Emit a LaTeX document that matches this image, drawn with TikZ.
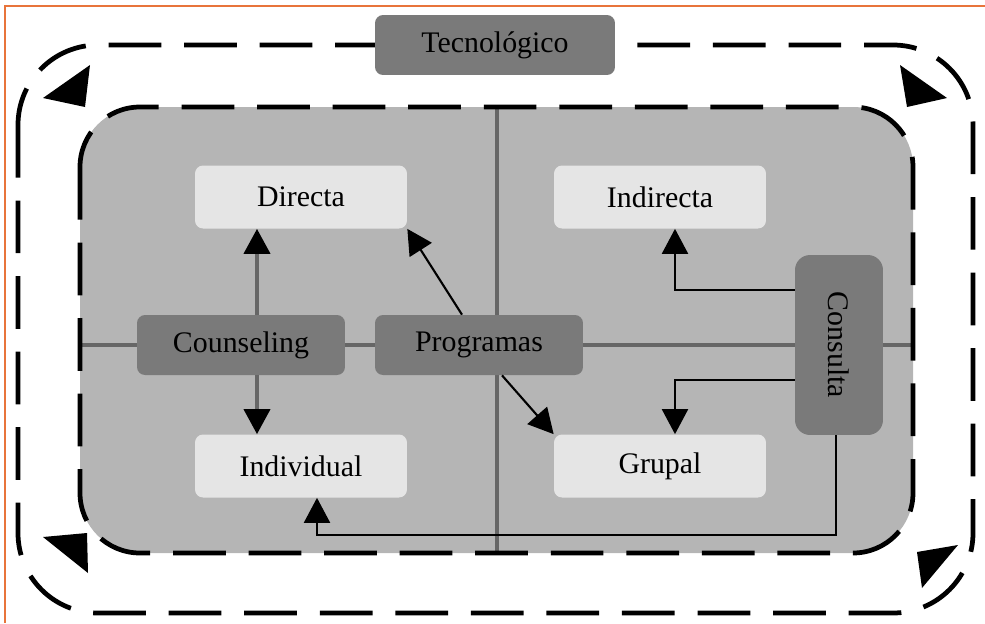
\documentclass[tikz,border=0pt]{standalone}
\usepackage{fontspec}
\setmainfont{Liberation Serif}
\usetikzlibrary{arrows.meta}
\definecolor{panelgray}{gray}{0.71}
\definecolor{boxlight}{gray}{0.90}
\definecolor{boxdark}{gray}{0.48}
\definecolor{divgray}{gray}{0.40}
\definecolor{edgeorange}{RGB}{232,116,59}

\begin{document}
\begin{tikzpicture}[x=0.02cm,y=-0.02cm,font=\fontsize{17}{20}\selectfont,
  light/.style={fill=boxlight,rounded corners=.16cm,minimum width=4.24cm,minimum height=1.26cm},
  dark/.style={fill=boxdark,rounded corners=.16cm,minimum width=4.16cm,minimum height=1.2cm},
  frame/.style={line width=2.7pt,dash pattern=on 30pt off 13pt},
  link/.style={line width=1.2pt,-{Triangle[length=.5cm,width=.52cm,color=black]}}]
\useasboundingbox (0,0) rectangle (985,623);
\draw[edgeorange,line width=.8pt] (5,623)--(5,6)--(985,6);
% panel and its quadrants
\fill[panelgray,rounded corners=1.2cm] (80,107) rectangle (913,553);
\draw[divgray,line width=2.2pt] (497,107)--(497,553);\draw[divgray,line width=2.2pt] (80,345)--(913,345);
\draw[frame,rounded corners=1.2cm] (80,107) rectangle (913,553);
\draw[frame,rounded corners=1.6cm] (18,45) rectangle (973,613);
\fill (90,65)--(43,98)--(85,107)--cycle;
\fill (947,98)--(900,65)--(907,107)--cycle;
\fill (922,588)--(917,552)--(958,545)--cycle;
\fill (43,537)--(87,533)--(88,573)--cycle;
% nodes
\node[dark,minimum width=4.8cm] (tec) at (495,45) {Tecnológico};
\node[light] (dir) at (301,197) {Directa};
\node[light] (ind) at (660,197) {Indirecta};
\node[light] (indv) at (301,466) {Individual};
\node[light] (grp) at (660,466) {Grupal};
\node[dark] (cou) at (241,345) {Counseling};
\node[dark] (prog) at (479,345) {Programas};
\node[dark,rounded corners=.3cm,minimum width=1.76cm,minimum height=3.6cm] (cons) at (839,345) {\rotatebox{-90}{Consulta}};
% connectors
\draw[link,divgray,line width=2.2pt] ([xshift=.32cm]cou.north)--([xshift=.32cm]cou.north |- dir.south);
\draw[link,divgray,line width=2.2pt] ([xshift=.32cm]cou.south)--([xshift=.32cm]cou.south |- indv.north);
\draw[link] ([xshift=-.34cm]prog.north)--(dir.south east);
\draw[link] ([xshift=.46cm]prog.south)--(grp.north west);
\draw[link] ([yshift=1.1cm]cons.west) -| ([xshift=.3cm]ind.south);
\draw[link] ([yshift=-.7cm]cons.west) -| ([xshift=.3cm]grp.north);
\coordinate (turn) at (836,535);
\draw[link] (cons.south -| turn)--(turn) -| ([xshift=.32cm]indv.south);
\end{tikzpicture}
\end{document}
